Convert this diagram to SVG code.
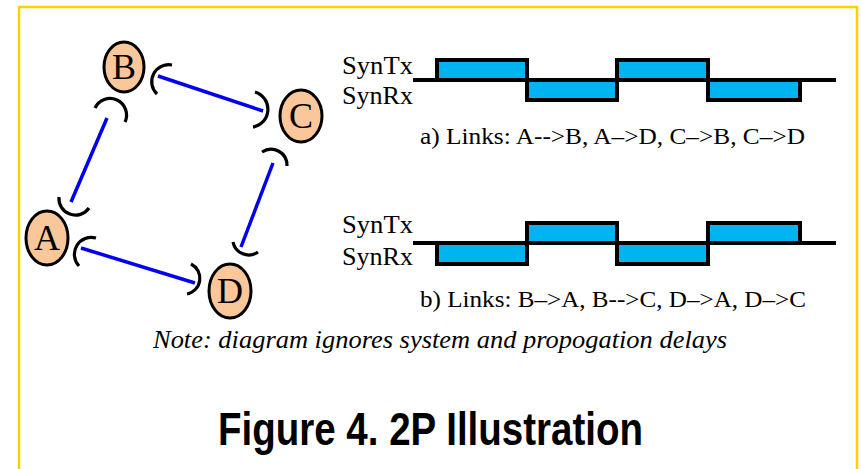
<svg xmlns="http://www.w3.org/2000/svg" width="861" height="469" viewBox="0 0 861 469">
<style>
.serif{font-family:'Liberation Serif','Times New Roman',Times,serif}
.node ellipse{fill:#F9C79A;stroke:#000;stroke-width:3}
.node text{font-family:'Liberation Serif','Times New Roman',Times,serif;font-size:36px;text-anchor:middle;fill:#000}
.link{stroke:#0000F0;stroke-width:3.5;fill:none}
.cup{stroke:#000;stroke-width:3.2;fill:none}
.pulse{fill:#00B4F0;stroke:#000;stroke-width:4}
.base{stroke:#000;stroke-width:4}
.sig{font-size:25px;fill:#000}
.cap{font-size:23px;fill:#000}
</style>
<rect width="861" height="469" fill="#fff"/>
<path d="M19,469 V7 H857 V469" fill="none" stroke="#FFD000" stroke-width="2.5"/>
<g id="connectors">
<line class="link" x1="158" y1="76" x2="263" y2="111"/>
<line class="link" x1="107" y1="118" x2="71" y2="202"/>
<line class="link" x1="273" y1="163" x2="241" y2="247"/>
<line class="link" x1="81" y1="248" x2="195" y2="283"/>
<path class="cup" d="M172,65 A17,17 0 0,0 157,94"/>
<path class="cup" d="M255,92 A18,18 0 0,1 253,127"/>
<path class="cup" d="M95,108 A16.5,16.5 0 0,1 125,122"/>
<path class="cup" d="M59,197 A16.5,16.5 0 0,0 89,208"/>
<path class="cup" d="M96,238 A17,17 0 0,0 79,266"/>
<path class="cup" d="M191,264 A16,16 0 0,1 187,294"/>
<path class="cup" d="M262,152 A16,16 0 0,1 287,166"/>
<path class="cup" d="M233,242 A16,16 0 0,0 258,252"/>
</g>
<g id="node-B" class="node"><ellipse cx="124" cy="67" rx="20" ry="25"/><text x="124" y="79">B</text></g>
<g id="node-C" class="node"><ellipse cx="301" cy="116" rx="21" ry="26"/><text x="301" y="128">C</text></g>
<g id="node-A" class="node"><ellipse cx="47" cy="238" rx="21" ry="27"/><text x="47" y="250">A</text></g>
<g id="node-D" class="node"><ellipse cx="230" cy="291" rx="21" ry="27"/><text x="230" y="303">D</text></g>
<g id="timing-a">
<line class="base" x1="413" y1="80" x2="836" y2="80"/>
<rect class="pulse" x="437" y="60" width="90" height="20"/>
<rect class="pulse" x="617" y="60" width="91" height="20"/>
<rect class="pulse" x="527" y="80" width="90" height="20"/>
<rect class="pulse" x="708" y="80" width="92" height="20"/>
<text class="serif sig" x="342" y="74" textLength="71" lengthAdjust="spacingAndGlyphs">SynTx</text>
<text class="serif sig" x="342" y="104" textLength="71" lengthAdjust="spacingAndGlyphs">SynRx</text>
<text class="serif cap" x="420" y="144" textLength="385" lengthAdjust="spacingAndGlyphs">a) Links: A-->B, A–>D, C–>B, C–>D</text>
</g>
<g id="timing-b">
<line class="base" x1="413" y1="243" x2="836" y2="243"/>
<rect class="pulse" x="527" y="223" width="90" height="20"/>
<rect class="pulse" x="708" y="223" width="92" height="20"/>
<rect class="pulse" x="437" y="243" width="90" height="21"/>
<rect class="pulse" x="617" y="243" width="91" height="21"/>
<text class="serif sig" x="342" y="233" textLength="71" lengthAdjust="spacingAndGlyphs">SynTx</text>
<text class="serif sig" x="342" y="265" textLength="71" lengthAdjust="spacingAndGlyphs">SynRx</text>
<text class="serif cap" x="420" y="307" textLength="386" lengthAdjust="spacingAndGlyphs">b) Links: B–>A, B-->C, D–>A, D–>C</text>
</g>
<text class="serif" x="153" y="348" font-style="italic" font-size="25" textLength="574" lengthAdjust="spacingAndGlyphs">Note: diagram ignores system and propogation delays</text>
<text x="218" y="445" font-family="'Liberation Sans',Arial,sans-serif" font-weight="bold" font-size="46" textLength="425" lengthAdjust="spacingAndGlyphs">Figure 4. 2P Illustration</text>
</svg>
